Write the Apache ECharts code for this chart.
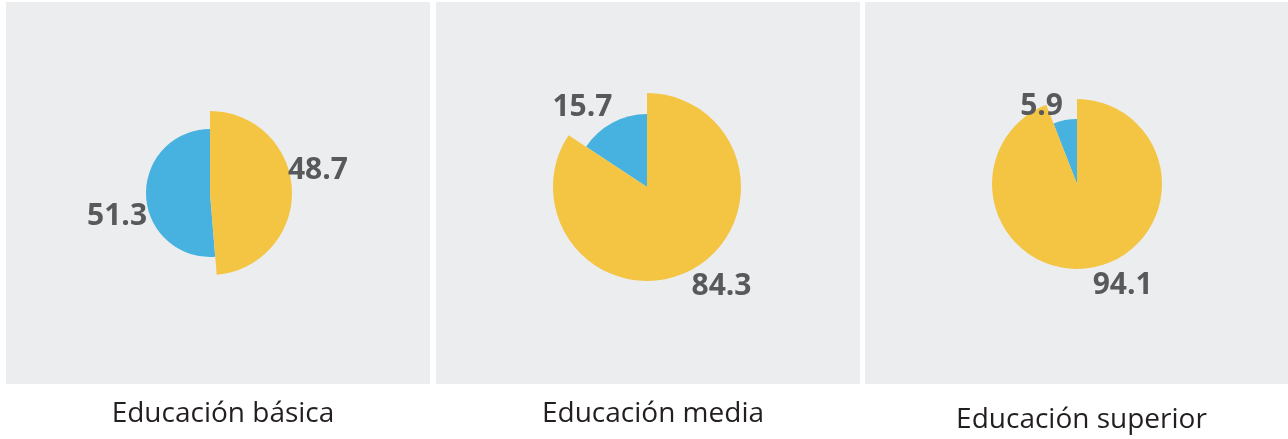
<!DOCTYPE html>
<html><head><meta charset="utf-8">
<script src="https://cdn.jsdelivr.net/npm/echarts@6/dist/echarts.min.js"></script>
<style>html,body{margin:0;padding:0;background:#fff}#c{width:1288px;height:439px}</style>
</head><body><div id="c"></div>
<script>
// ---- data ----
const categories = ['Educación básica', 'Educación media', 'Educación superior'];
const sliceNames = ['Grupo A', 'Grupo B'];
const yellowValues = [48.7, 84.3, 94.1];
const blueValues = [51.3, 15.7, 5.9];

// ---- layout / style ----
const YELLOW = '#F4C443', BLUE = '#47B2E0';
const panels = [[6, 430], [436, 860], [865, 1288]];
const panelTop = 2, panelBottom = 384;
const centers = [[210, 193], [647, 187], [1077, 184]];
const outerR = [82, 94, 85];
const innerR = [64, 73, 65];
const yellowLabelShift = [[-4, -19], [0, 17], [0, 18]];
const blueLabelShift = [[1, 21], [0, -15], [-2, -14]];
const titleTop = [395, 395, 401];

const labelStyle = {
  show: true, position: 'outside', formatter: '{c}',
  fontSize: 30, fontWeight: 'bold', color: '#58595B',
  fontFamily: 'Open Sans', distanceToLabelLine: 0
};

const series = [];
categories.forEach((cat, i) => {
  const mk = (r, vals, colorIdx, shift) => ({
    type: 'pie', center: centers[i], radius: r, startAngle: 90, clockwise: true,
    avoidLabelOverlap: false, silent: true, animation: false,
    emphasis: { disabled: true },
    itemStyle: { borderWidth: 0 },
    label: labelStyle,
    labelLine: { show: false, length: 0, length2: 0 },
    labelLayout: { dx: shift[0], dy: shift[1] },
    data: [
      { name: sliceNames[0], value: yellowValues[i],
        itemStyle: { color: colorIdx === 0 ? YELLOW : 'rgba(0,0,0,0)' },
        label: { show: colorIdx === 0 } },
      { name: sliceNames[1], value: blueValues[i],
        itemStyle: { color: colorIdx === 1 ? BLUE : 'rgba(0,0,0,0)' },
        label: { show: colorIdx === 1 } }
    ]
  });
  series.push(mk(innerR[i], blueValues, 1, blueLabelShift[i]));
  series.push(mk(outerR[i], yellowValues, 0, yellowLabelShift[i]));
});

const graphics = panels.map(p => ({
  type: 'rect', z: -10, silent: true,
  shape: { x: p[0], y: panelTop, width: p[1] - p[0], height: panelBottom - panelTop },
  style: { fill: '#ECEDEF' }
}));

const titles = categories.map((cat, i) => ({
  text: cat, left: (panels[i][0] + panels[i][1]) / 2, top: titleTop[i], textAlign: 'center',
  textStyle: { fontSize: 28, fontWeight: 'normal', color: '#231F20', fontFamily: 'Open Sans' }
}));

const chart = echarts.init(document.getElementById('c'), null, { renderer: 'canvas' });
chart.setOption({
  backgroundColor: '#ffffff',
  animation: false,
  title: titles,
  graphic: graphics,
  series: series
});
</script></body></html>
